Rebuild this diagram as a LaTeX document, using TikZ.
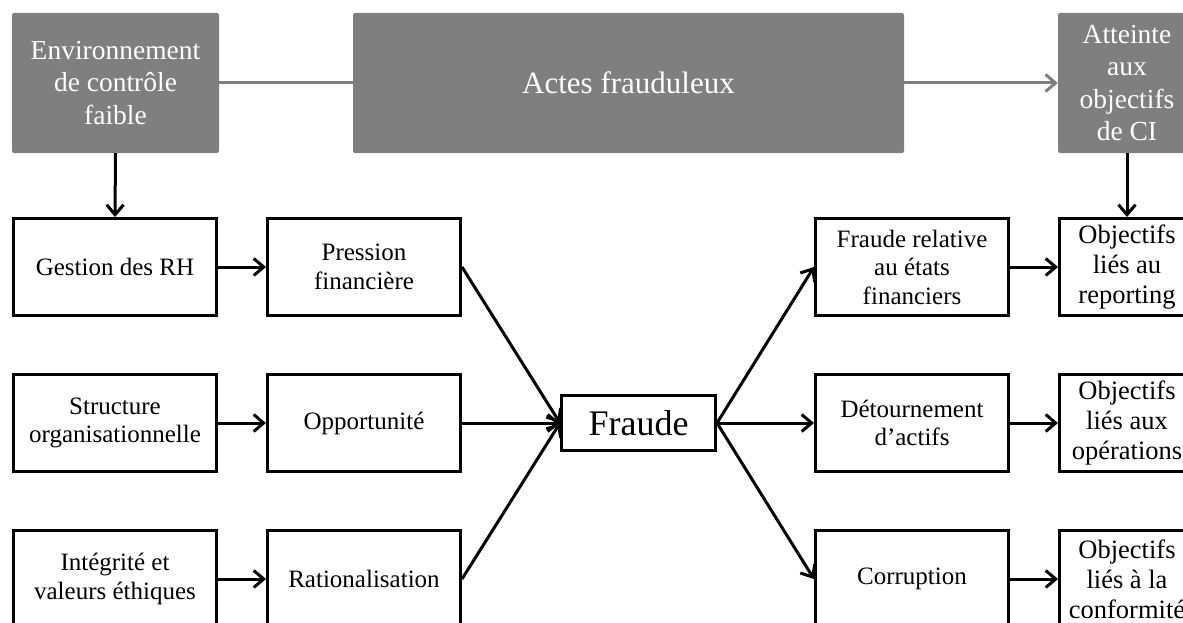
\documentclass[tikz,border=0pt]{standalone}
\usepackage{fontspec}
\setmainfont{Liberation Serif}
\usetikzlibrary{arrows.meta}
\definecolor{boxgray}{HTML}{7F7F7F}
\begin{document}
\begin{tikzpicture}[x=1pt,y=-1pt,
  graybox/.style={fill=boxgray, draw=none, rounded corners=2pt, text=white, align=center, inner sep=0pt, font=\fontsize{27.5}{32.5}\selectfont},
  box/.style={draw=black, line width=3pt, fill=white, align=center, inner sep=0pt, minimum height=97pt, font=\fontsize{25}{28.5}\selectfont},
  colA/.style={box, minimum width=203pt},
  colB/.style={box, minimum width=193pt},
  colD/.style={box, minimum width=135pt, font=\fontsize{26.5}{30}\selectfont},
  arr/.style={draw=black, line width=3pt, -{Straight Barb[length=10pt,width=17pt]}},
  grayline/.style={draw=boxgray, line width=3pt},
  grayarr/.style={grayline, -{Straight Barb[length=10pt,width=17pt]}}]
\useasboundingbox (0,0) rectangle (1183,623);
\clip (0,0) rectangle (1183,623);
% gray top boxes
\node[graybox, minimum width=207pt, minimum height=140pt] (G1) at (115.5,83) {Environnement\\de contrôle\\faible};
\node[graybox, minimum width=551pt, minimum height=140pt, font=\fontsize{31}{36}\selectfont] (G2) at (628.5,83) {Actes frauduleux};
\node[graybox, minimum width=138pt, minimum height=140pt] (G3) at (1127,83) {Atteinte\\aux\\objectifs\\de CI};
% left column
\node[colA] (A1) at (115,267) {Gestion des RH};
\node[colA] (A2) at (115,423) {Structure\\organisationnelle};
\node[colA] (A3) at (115,579) {Intégrité et\\valeurs éthiques};
% second column
\node[colB] (B1) at (364,267) {Pression\\financière};
\node[colB] (B2) at (364,423) {Opportunité};
\node[colB] (B3) at (364,579) {Rationalisation};
% centre
\node[box, minimum width=154pt, minimum height=55pt, font=\fontsize{36}{40}\selectfont] (F) at (638.5,423) {Fraude};
% third column
\node[colB] (C1) at (912,267) {Fraude relative\\au états\\financiers};
\node[colB] (C2) at (912,423) {Détournement\\d’actifs};
\node[colB] (C3) at (912,579) {Corruption};
% right column
\node[colD] (D1) at (1127,267) {Objectifs\\liés au\\reporting};
\node[colD] (D2) at (1127,423) {Objectifs\\liés aux\\opérations};
\node[colD] (D3) at (1127,579) {Objectifs\\liés à la\\conformité};
% gray connectors
\draw[grayline] (G1.east) -- (G2.west);
\draw[grayarr] (G2.east) -- (G3.west);
% black connectors
\draw[arr] (G1.south) -- (A1.north);
\draw[arr] (G3.south) -- (D1.north);
\foreach \i in {1,2,3} {
  \draw[arr] (A\i.east) -- (B\i.west);
  \draw[arr] (B\i.east) -- (F.west);
  \draw[arr] (F.east) -- (C\i.west);
  \draw[arr] (C\i.east) -- (D\i.west);
}
\end{tikzpicture}
\end{document}
